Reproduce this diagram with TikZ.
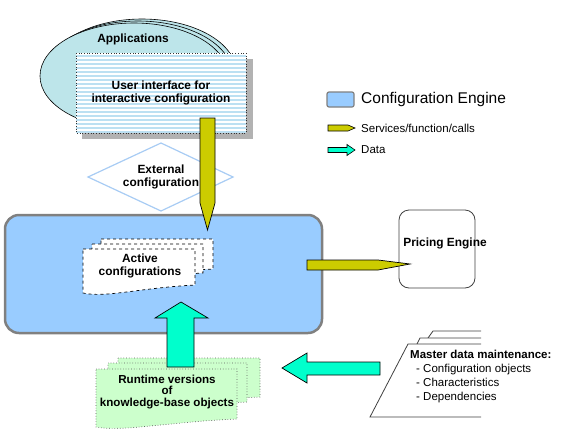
\documentclass[tikz,border=0pt]{standalone}
\usepackage{fontspec}
\setmainfont{Liberation Sans}
\usetikzlibrary{calc}
\definecolor{engblue}{HTML}{99CCFF}
\definecolor{appcyan}{HTML}{BDE5EA}
\definecolor{stripe}{HTML}{BCE0F2}
\definecolor{svcyellow}{HTML}{CCCC00}
\definecolor{datacyan}{HTML}{00FFCC}
\definecolor{rtgreen}{HTML}{CCFFCC}
\definecolor{diablue}{HTML}{A8CCF4}
\newcommand\docshape[5]{\draw[#5] (#1,#2) -- (#1+#3,#2) -- (#1+#3,#2+#4-8) .. controls (#1+0.5*#3,#2+#4-5) and (#1+0.2*#3,#2+#4+5) .. (#1,#2+#4) -- cycle;}
\begin{document}
\begin{tikzpicture}[x=1pt,y=-1pt,
  lbl/.style={font=\fontsize{11.9}{13}\selectfont\bfseries, align=center, inner sep=0},
  txt/.style={font=\fontsize{11.5}{14}\selectfont, inner sep=0},
  svc/.style={fill=svcyellow, draw=black, line width=0.7pt},
  dat/.style={fill=datacyan, draw=black, line width=0.7pt},
  actdoc/.style={fill=white, draw=black, dashed, line width=0.7pt},
  rtdoc/.style={fill=rtgreen, draw=black!65, dotted, line width=0.7pt},
  folder/.style={fill=white, draw=black!75, line width=0.8pt},
]
\useasboundingbox (0,0) rectangle (564,442);

% Applications (stacked ellipses)
\foreach \d in {8,4}{\draw[fill=appcyan, line width=0.6pt] (134+\d,76-\d/2) ellipse [x radius=94, y radius=53];}
\draw[fill=appcyan, line width=0.6pt] (134,76) ellipse [x radius=94, y radius=53];
\node[lbl] (apps) at (133,39) {Applications};

% User interface box
\fill[black!30] (82,59) rectangle (253,139);
\fill[white] (76,53) rectangle (246,133);
\begin{scope}
  \clip (76,53) rectangle (246,133);
  \foreach \yy in {56,60,...,134} \draw[stripe, line width=1.1pt] (76,\yy) -- (246,\yy);
\end{scope}
\draw[black!80, dotted, line width=0.7pt] (76,53) rectangle (246,133);
\node[lbl] (ui) at (161,93) {User interface for\\interactive configuration};

% External configuration diamond
\draw[diablue, line width=1.2pt, fill=white] (88,177) -- (161,143) -- (233,177) -- (161,211) -- cycle;
\node[lbl] (ext) at (161,177) {External\\configuration};

% Configuration engine
\draw[fill=engblue, draw=black!50, line width=2.5pt, rounded corners=14pt] (5,215) rectangle (322,333);
\node[inner sep=0] (engine) at (163,274) {};

% Services arrow down
\coordinate (sA) at (207.5,118);
\coordinate (sB) at (207.5,230);
\draw[svc] ($(sA)+(-7.5,0)$) -- ($(sA)+(7.5,0)$) -- ($(sB)+(7.5,-27)$) -- (sB) -- ($(sB)+(-7.5,-27)$) -- cycle;

% Active configurations
\docshape{101}{239}{112}{38}{actdoc}
\docshape{92}{244}{111}{37}{actdoc}
\docshape{83}{249}{112}{44}{actdoc}
\node[lbl] (act) at (140,266) {Active\\configurations};

% Pricing engine
\node[draw=black!75, line width=0.8pt, rounded corners=10pt, minimum width=76pt, minimum height=78pt, fill=white, inner sep=0] (pricing) at (437,249) {};
\node[lbl] (pricingtxt) at (445,243) {Pricing Engine};

% Services arrow right
\coordinate (sC) at (307,265);
\coordinate (sD) at (410,264);
\draw[svc] ($(sC)+(0,-5)$) -- ($(sD)+(-32,-4)$) -- (sD) -- ($(sD)+(-32,6)$) -- ($(sC)+(0,5)$) -- cycle;

% Runtime versions
\docshape{118}{358}{142}{47}{rtdoc}
\docshape{108}{363}{139}{47}{rtdoc}
\docshape{96}{369}{141}{58}{rtdoc}
\node[lbl, font=\fontsize{11.6}{11.8}\selectfont\bfseries] (rt) at (167,392) {Runtime versions\\of\\knowledge-base objects};

% Data arrow up
\coordinate (dA) at (180.5,367);
\coordinate (dB) at (181,302);
\draw[dat] ($(dA)+(-13.5,0)$) -- ($(dB)+(-14,16)$) -- ($(dB)+(-26,16)$) -- (dB) -- ($(dB)+(27,16)$) -- ($(dB)+(13,16)$) -- ($(dA)+(13.5,0)$) -- cycle;

% Master data folder
\draw[folder] (481,331) -- (433,331) -- (428,338);
\draw[folder] (481,338) -- (420,338) -- (417,344);
\draw[folder] (481,344) -- (408,344) -- (370,417) -- (481,417);
\node[txt, anchor=north west, align=left] (master) at (410,350) {\textbf{Master data maintenance:}\\\hspace*{6pt}- Configuration objects\\\hspace*{6pt}- Characteristics\\\hspace*{6pt}- Dependencies};

% Data arrow left
\coordinate (dC) at (380,368.5);
\coordinate (dD) at (282,368);
\draw[dat] ($(dC)+(0,-6.5)$) -- ($(dD)+(25,-6)$) -- ($(dD)+(25,-15)$) -- (dD) -- ($(dD)+(25,15)$) -- ($(dD)+(25,7)$) -- ($(dC)+(0,6.5)$) -- cycle;

% Legend
\draw[fill=engblue, draw=black!50, line width=1.2pt, rounded corners=2pt] (327,92) rectangle (354,107);
\node[anchor=west, inner sep=0, font=\fontsize{15.5}{18}\selectfont] (lgeng) at (361,99.5) {Configuration Engine};
\draw[svc, line width=0.6pt] (328,125) -- (348,125) -- (355,128) -- (348,131) -- (328,131) -- cycle;
\node[txt, anchor=west] (lgsvc) at (361,128) {Services/function/calls};
\draw[dat, line width=0.6pt] (328,147.5) -- (347,147.5) -- (347,144.5) -- (355,150) -- (347,155.5) -- (347,152.5) -- (328,152.5) -- cycle;
\node[txt, anchor=west] (lgdat) at (361,150) {Data};
\end{tikzpicture}
\end{document}
